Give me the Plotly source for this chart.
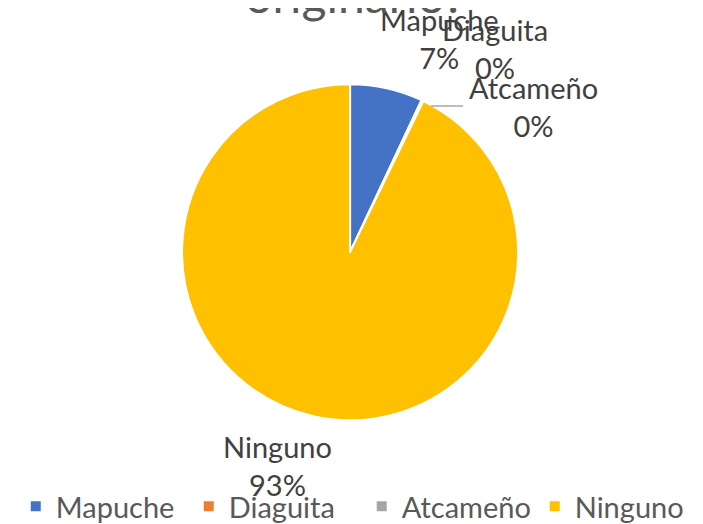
import plotly.graph_objects as go

# categorías y valores (porcentaje aproximado)
categorias = ['Mapuche', 'Diaguita', 'Atcameño', 'Ninguno']
valores = [7, 0.1, 0.1, 93]
colores = ['#4472C4', '#ED7D31', '#A5A5A5', '#FFC000']

# posición de las etiquetas de datos (px desde arriba-izquierda), como en el original
pos_etiquetas = [(431, 30), (487, 40), (525, 98), (269, 457)]

W, H = 703, 524
total = sum(valores)

fig = go.Figure(go.Pie(
    labels=categorias,
    values=valores,
    sort=False,
    direction='clockwise',
    rotation=0,
    marker=dict(colors=colores, line=dict(color='white', width=2)),
    textinfo='none',
    hoverinfo='label+percent',
    domain=dict(x=[0.2476, 0.7256], y=[0.213, 0.855]),
))

# etiquetas de datos
anotaciones = []
for cat, val, (px, py) in zip(categorias, valores, pos_etiquetas):
    anotaciones.append(dict(
        text=f'{cat}<br>{round(100 * val / total)}%',
        xref='paper', yref='paper', x=px / W, y=1 - py / H,
        xanchor='center', yanchor='middle', showarrow=False,
        font=dict(family='Lato', size=29, color='#404040'),
    ))

# título (cortado arriba como en la imagen original)
anotaciones.append(dict(
    text='¿Pertenece a algún pueblo<br>originario?',
    xref='paper', yref='paper', x=346.5 / W, y=1 - 17 / H,
    xanchor='center', yanchor='bottom', showarrow=False,
    font=dict(family='Lato', size=48, color='#595959'),
))

fig.update_layout(
    width=W, height=H,
    margin=dict(l=0, r=0, t=0, b=0, autoexpand=False),
    paper_bgcolor='white',
    font=dict(family='Lato', color='#595959'),
    showlegend=True,
    legend=dict(
        orientation='h', x=0.011, xanchor='left', y=0.0, yanchor='bottom',
        entrywidth=128, entrywidthmode='pixels',
        font=dict(size=29, color='#595959'),
        traceorder='normal',
    ),
    annotations=anotaciones,
    shapes=[dict(
        type='line', xref='paper', yref='paper',
        x0=423 / W, x1=455 / W, y0=1 - 98 / H, y1=1 - 98 / H,
        line=dict(color='#A6A6A6', width=1.5),
    )],
)

fig.write_html("out.html")
